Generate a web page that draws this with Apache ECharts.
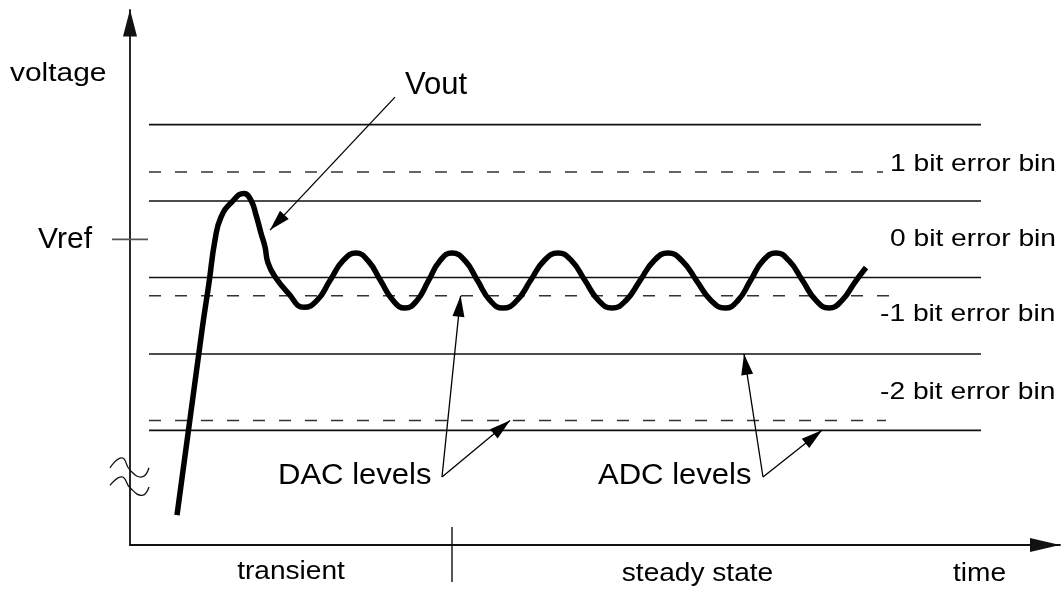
<!DOCTYPE html>
<html>
<head>
<meta charset="utf-8">
<script src="https://cdn.jsdelivr.net/npm/echarts@6/dist/echarts.min.js"></script>
<style>
  html, body { margin: 0; padding: 0; background: #fff; }
  #chart { width: 1063px; height: 589px; }
</style>
</head>
<body>
<div id="chart"></div>
<script>
// ---- data (time in arbitrary units, voltage in LSB relative to Vref) ----
const adcLevels = [1.5, 0.5, -0.5, -1.5, -2.5];
const dacLevels = [0.88, -0.74, -2.37];
const dacLevelEnds = [75.3, 76.2, 75.6];
const levelStart = 1.9;
const adcLevelEnd = 85.1;
const vref = 0;
const vrefTickSpan = [-1.8, 1.8];
const yTickLabels = { 0: 'Vref' };
const phaseDivider = 32.2;

const voutTime = [4.7, 7.2, 7.9, 8.5, 9.1, 10.2, 11.4, 12.1, 12.6, 13.1, 13.5, 13.8, 14.5, 15.8, 17.4,
  18.7, 20.0, 21.3, 22.6, 23.8, 25.05, 26.3, 27.5, 28.7, 29.85, 31.0, 32.2,
  33.5, 34.75, 36.0, 37.3, 38.7, 40.05, 41.4, 42.8, 44.15, 45.5, 46.85, 48.2,
  49.6, 51.0, 52.4, 53.8, 55.2, 56.65, 58.1, 59.5, 60.8, 62.05, 63.3, 64.6,
  65.9, 67.25, 68.6, 69.9, 71.2, 72.5, 73.6];
const voutVolt = [-3.61, -1.19, -0.57, -0.01, 0.29, 0.49, 0.60, 0.51, 0.32, 0.08, -0.10, -0.31, -0.49, -0.70, -0.89,
  -0.80, -0.54, -0.28, -0.18, -0.28, -0.54, -0.80, -0.90, -0.80, -0.54, -0.28, -0.18,
  -0.28, -0.54, -0.80, -0.90, -0.80, -0.54, -0.28, -0.18, -0.28, -0.54, -0.80, -0.90,
  -0.80, -0.54, -0.28, -0.18, -0.28, -0.54, -0.80, -0.90, -0.80, -0.54, -0.28, -0.18,
  -0.28, -0.54, -0.80, -0.90, -0.80, -0.56, -0.37];

// axis-break marks on the voltage axis
const breakTime = [-2.0, -0.8, 0.0, 1.2, 1.9];
const breakUpper = [-2.99, -2.86, -3.02, -3.11, -2.99];
const breakLower = [-3.22, -3.11, -3.25, -3.35, -3.24];

// annotation arrows: [from time, from volt, to time, to volt]
const voutArrow = [26.5, 1.86, 14.0, 0.12];
const dacArrows = [[31.2, -3.11, 33.06, -0.74], [31.2, -3.11, 38.0, -2.37]];
const adcArrows = [[63.3, -3.11, 61.4, -1.5], [63.3, -3.11, 69.2, -2.5]];

const binLabels = ['1 bit error bin', '0 bit error bin', '-1 bit error bin', '-2 bit error bin'];

// ---- chart ----
const FONT = "'Liberation Sans', Arial, Helvetica, sans-serif";
const chart = echarts.init(document.getElementById('chart'), null, { renderer: 'canvas' });

const series = [];
adcLevels.forEach(function (lv) {
  series.push({ type: 'line', silent: true, symbol: 'none', z: 2,
    data: [[levelStart, lv], [adcLevelEnd, lv]],
    lineStyle: { color: '#111', width: 1.6 } });
});
dacLevels.forEach(function (lv, i) {
  series.push({ type: 'line', silent: true, symbol: 'none', z: 2,
    data: [[levelStart, lv], [dacLevelEnds[i], lv]],
    lineStyle: { color: '#333', width: 1.5, type: [12, 14] } });
});
// transient / steady state divider
series.push({ type: 'line', silent: true, symbol: 'none', clip: false, z: 3,
  data: [[phaseDivider, -3.764], [phaseDivider, -4.484]], lineStyle: { color: '#111', width: 1.4 } });

// Vout curve + annotation arrows
const ARROW_HEAD = [12, 21];
function arrowItems(list) {
  return list.map(function (a) {
    return [
      { coord: [a[0], a[1]], symbol: 'none', symbolSize: 0 },
      { coord: [a[2], a[3]], symbol: 'triangle', symbolSize: ARROW_HEAD, symbolOffset: [0, ARROW_HEAD[1] / 2] }
    ];
  });
}
series.push({
  name: 'Vout', type: 'line', silent: true, symbol: 'none', smooth: 0.5, z: 5,
  data: voutTime.map(function (t, i) { return [t, voutVolt[i]]; }),
  lineStyle: { color: '#000', width: 5.5, cap: 'butt', join: 'round' },
  markLine: {
    silent: true, animation: false,
    label: { show: false },
    lineStyle: { color: '#000', width: 1.3, type: 'solid' },
    itemStyle: { color: '#000' },
    emphasis: { disabled: true },
    data: arrowItems([voutArrow].concat(dacArrows, adcArrows))
  }
});

function txt(text, x, y, size, sx, align) {
  return { type: 'text', x: x, y: y, scaleX: sx, z: 100, silent: true,
    style: { text: text, fontSize: size, fontFamily: FONT, fill: '#000',
      align: align || 'left', verticalAlign: 'middle' } };
}

const option = {
  animation: false,
  backgroundColor: '#ffffff',
  grid: { left: 130, right: 3, top: 10, bottom: 44, containLabel: false, outerBoundsMode: 'none' },
  xAxis: {
    type: 'value', min: 0, max: 93,
    axisLine: { onZero: false, lineStyle: { color: '#111', width: 1.8 },
      symbol: ['none', 'triangle'], symbolSize: [14, 30], symbolOffset: [0, -15] },
    axisTick: { show: false }, axisLabel: { show: false }, splitLine: { show: false }
  },
  yAxis: {
    type: 'value', min: -4, max: 3, interval: 1,
    axisLine: { onZero: false, lineStyle: { color: '#111', width: 1.8 },
      symbol: ['none', 'triangle'], symbolSize: [14, 27], symbolOffset: [0, -13] },
    axisTick: { show: false },
    axisLabel: { margin: 38, fontSize: 30, fontFamily: FONT, color: '#000',
      formatter: function (v) { return yTickLabels[v] || ''; } },
    splitLine: { show: false }
  },
  series: series
};
chart.setOption(option);

// Marks that sit on / beside the voltage axis, placed through the chart's own scales
function px(t, v) { return chart.convertToPixel({ gridIndex: 0 }, [t, v]); }
const graphics = [
  txt('voltage', 10, 74, 26, 1.15),
  txt('Vout', 405, 85, 31, 1.0),
  txt(binLabels[0], 890, 164, 24.5, 1.15),
  txt(binLabels[1], 890, 239, 24.5, 1.15),
  txt(binLabels[2], 880, 314, 24.5, 1.15),
  txt(binLabels[3], 880, 392, 24.5, 1.15),
  txt('DAC levels', 278, 475.5, 29, 1.07),
  txt('ADC levels', 598, 475.5, 29, 1.07),
  txt('transient', 291, 572, 26, 1.08, 'center'),
  txt('steady state', 697.5, 574, 26, 1.08, 'center'),
  txt('time', 979.5, 574, 26, 1.08, 'center')
];
const a = px(vrefTickSpan[0], vref), b = px(vrefTickSpan[1], vref);
graphics.push({ type: 'line', z: 50, silent: true,
  shape: { x1: a[0], y1: a[1], x2: b[0], y2: b[1] },
  style: { stroke: '#555', lineWidth: 1.8 } });
[breakUpper, breakLower].forEach(function (arr) {
  graphics.push({ type: 'polyline', z: 50, silent: true,
    shape: { points: breakTime.map(function (t, i) { return px(t, arr[i]); }), smooth: 0.5 },
    style: { stroke: '#111', lineWidth: 1.3, fill: null } });
});
chart.setOption({ graphic: graphics });
</script>
</body>
</html>
